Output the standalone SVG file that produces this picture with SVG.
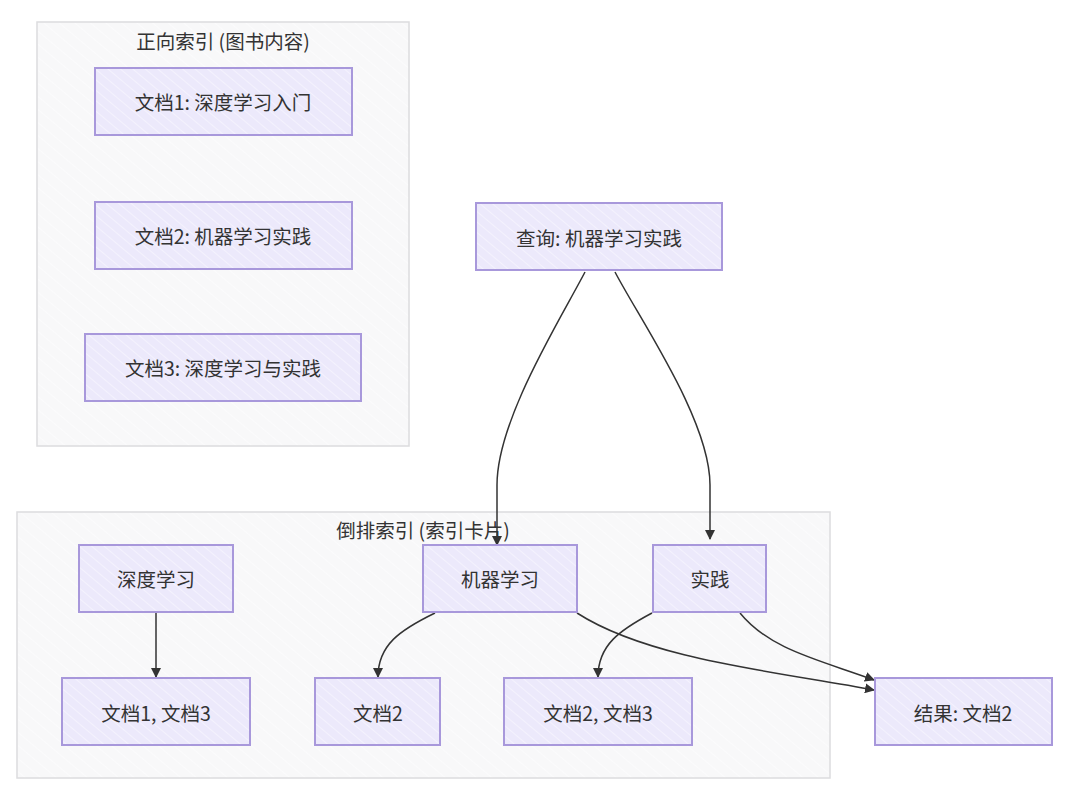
<svg xmlns="http://www.w3.org/2000/svg" width="1080" height="809" viewBox="0 0 1080 809">
<defs>
<pattern id="hatchN" width="8" height="8" patternUnits="userSpaceOnUse" patternTransform="rotate(-50)">
<rect width="8" height="8" fill="#ECE9FB"/>
<line x1="0" y1="0" x2="0" y2="8" stroke="#F7F5FE" stroke-width="1.5"/>
</pattern>
<pattern id="hatchC" width="10" height="10" patternUnits="userSpaceOnUse" patternTransform="rotate(-50)">
<rect width="10" height="10" fill="#F8F8F9"/>
<line x1="0" y1="0" x2="0" y2="10" stroke="#FDFDFD" stroke-width="1.5"/>
</pattern>
<marker id="arr" viewBox="0 0 10 10" refX="9" refY="5" markerWidth="10" markerHeight="10" markerUnits="userSpaceOnUse" orient="auto">
<path d="M0,0 L10,5 L0,10 Z" fill="#333"/>
</marker>
<style>
.cluster{fill:url(#hatchC);stroke:#DCDCDE;stroke-width:1.5}
.node rect{fill:url(#hatchN);stroke:#A898DB;stroke-width:2}
text{font-family:"Noto Sans CJK SC","Liberation Sans",sans-serif;font-size:19.5px;fill:#333;text-anchor:middle;dominant-baseline:central}
.edge{fill:none;stroke:#333;stroke-width:1.5;marker-end:url(#arr)}
</style>
</defs>
<rect width="1080" height="809" fill="#FFFFFF"/>

<g id="cluster-forward">
<rect class="cluster" x="37" y="22" width="372" height="424"/>
<text x="223" y="40">正向索引 (图书内容)</text>
</g>
<g id="cluster-inverted">
<rect class="cluster" x="17" y="512" width="813" height="266"/>
<text x="423" y="529">倒排索引 (索引卡片)</text>
</g>

<g id="connectors">
<path class="edge" d="M585,272 C560,320 497,420 497,485 L497,545"/>
<path class="edge" d="M615,272 C640,320 710,420 710,485 L710,539"/>
<path class="edge" d="M156,613 L156,677"/>
<path class="edge" d="M435,613 C400,630 378,645 378,677"/>
<path class="edge" d="M652,613 C620,630 598,645 598,677"/>
<path class="edge" d="M577,613 C650,660 780,672 874,690"/>
<path class="edge" d="M740,613 C770,650 820,660 874,680"/>
</g>

<g id="doc1" class="node"><rect x="95" y="68" width="257" height="67"/><text x="223" y="101">文档1: 深度学习入门</text></g>
<g id="doc2" class="node"><rect x="95" y="202" width="257" height="67"/><text x="223" y="235">文档2: 机器学习实践</text></g>
<g id="doc3" class="node"><rect x="85" y="334" width="276" height="67"/><text x="223" y="367">文档3: 深度学习与实践</text></g>
<g id="query" class="node"><rect x="476" y="203" width="246" height="67"/><text x="599" y="237">查询: 机器学习实践</text></g>
<g id="term-dl" class="node"><rect x="79" y="545" width="154" height="67"/><text x="156" y="578">深度学习</text></g>
<g id="term-ml" class="node"><rect x="423" y="545" width="154" height="67"/><text x="500" y="578">机器学习</text></g>
<g id="term-sj" class="node"><rect x="653" y="545" width="113" height="67"/><text x="710" y="578">实践</text></g>
<g id="post-dl" class="node"><rect x="62" y="678" width="188" height="67"/><text x="156" y="712">文档1, 文档3</text></g>
<g id="post-ml" class="node"><rect x="315" y="678" width="125" height="67"/><text x="378" y="712">文档2</text></g>
<g id="post-sj" class="node"><rect x="504" y="678" width="188" height="67"/><text x="598" y="712">文档2, 文档3</text></g>
<g id="result" class="node"><rect x="875" y="678" width="177" height="67"/><text x="963" y="712">结果: 文档2</text></g>
</svg>
